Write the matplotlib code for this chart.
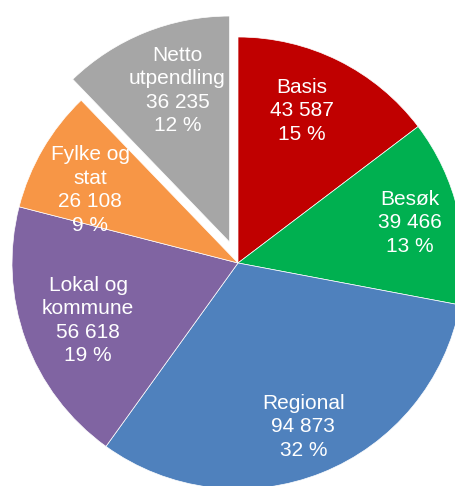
import matplotlib
matplotlib.use('Agg')
import matplotlib.pyplot as plt
import numpy as np

# Data
categories = ['Basis', 'Besøk', 'Regional', 'Lokal og\nkommune', 'Fylke og\nstat', 'Netto\nutpendling']
values = [43587, 39466, 94873, 56618, 26108, 36235]
value_labels = ['43 587', '39 466', '94 873', '56 618', '26 108', '36 235']
colors = ['#C00000', '#00B050', '#4F81BD', '#8064A2', '#F79646', '#A6A6A6']
explode = [0, 0, 0, 0, 0, 0.1]

# label placement inside the wedges (radius fraction, angle nudge in degrees)
label_r = [0.73, 0.78, 0.78, 0.71, 0.73, 0.71]
label_nudge = [3.6, 0, 0, 1, 4, -3]

plt.rcParams['font.family'] = ['Liberation Sans', 'DejaVu Sans']

fig = plt.figure(figsize=(4.55, 4.86), dpi=100)
ax = fig.add_axes([0, 0, 1, 1])

total = sum(values)
wedges, texts = ax.pie(values, colors=colors, explode=explode, startangle=90,
                       counterclock=False, radius=1,
                       wedgeprops=dict(edgecolor='white', linewidth=0.5))

for w, cat, vl, v, r, nd in zip(wedges, categories, value_labels, values, label_r, label_nudge):
    ang = np.deg2rad((w.theta1 + w.theta2) / 2 + nd)
    cx, cy = w.center
    pct = round(v / total * 100)
    ax.text(cx + r * np.cos(ang), cy + r * np.sin(ang),
            f'{cat}\n{vl}\n{pct} %', ha='center', va='center',
            color='white', fontsize=15, linespacing=1.3)

# pie centre at pixel (238, 263), radius 226 px
R = 226
ax.set_xlim(-238 / R, (455 - 238) / R)
ax.set_ylim((263 - 486) / R, 263 / R)
ax.set_aspect('auto')
ax.axis('off')

fig.savefig('out.png', dpi=100)
